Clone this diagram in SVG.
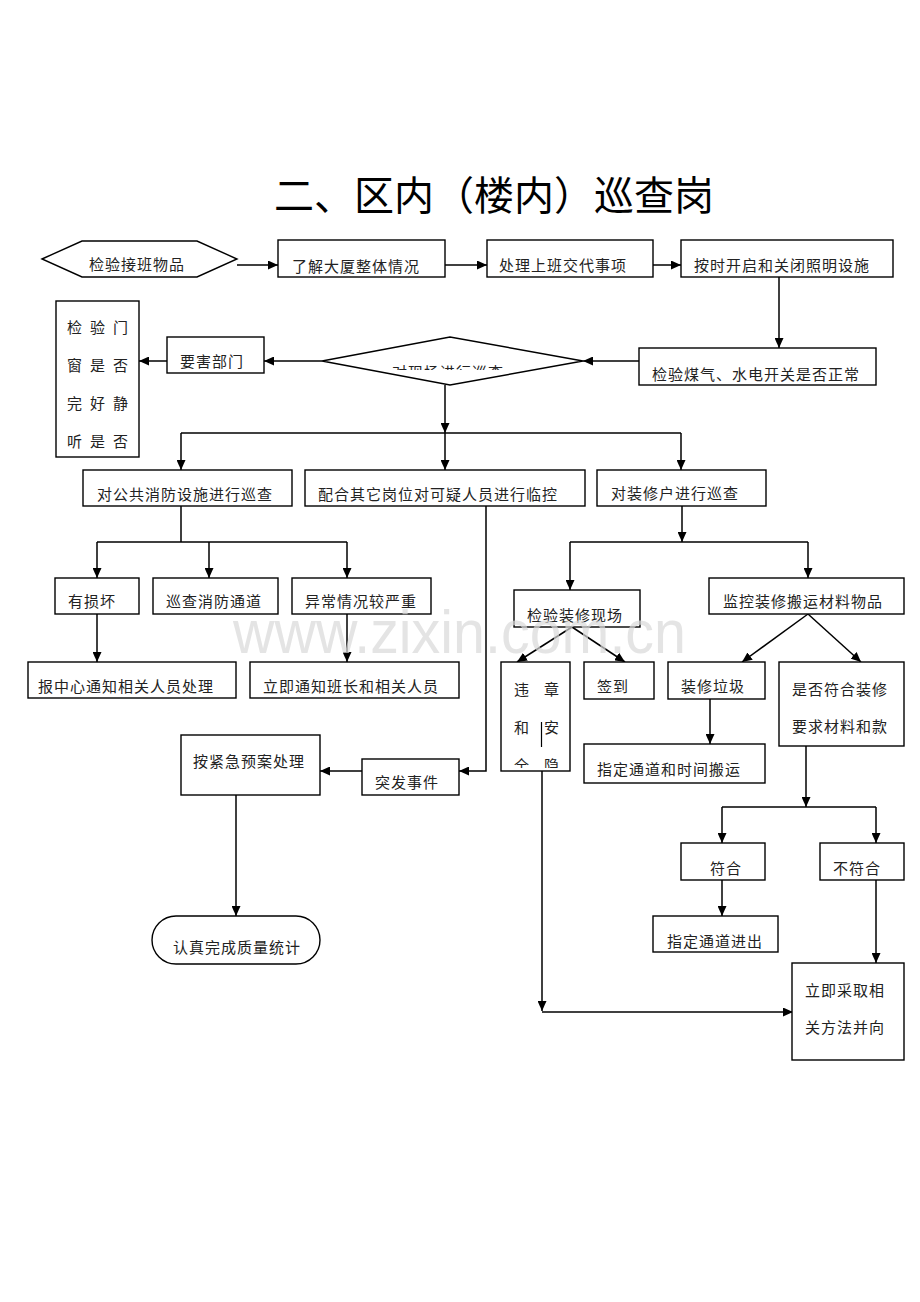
<svg xmlns="http://www.w3.org/2000/svg" width="920" height="1302" viewBox="0 0 920 1302">
<style>
.b{fill:#fff;stroke:#000;stroke-width:1.4}
.t{font-family:"Noto Sans CJK SC","Liberation Serif",serif;font-size:15px;fill:#222;letter-spacing:1px}
.c{fill:none;stroke:#000;stroke-width:1.5}
.a{marker-end:url(#ah)}
.title{font-family:"Noto Sans CJK SC","Liberation Serif",serif;font-size:40px;fill:#000}
</style>
<defs>
<marker id="ah" markerUnits="userSpaceOnUse" markerWidth="11" markerHeight="9" refX="10" refY="4.5" orient="auto"><path d="M0,0 L10,4.5 L0,9 z" fill="#000"/></marker>
<clipPath id="cd"><rect x="320" y="330" width="270" height="40"/></clipPath>
<clipPath id="cw"><rect x="501" y="662" width="69" height="106"/></clipPath>
</defs>
<rect width="920" height="1302" fill="#fff"/>
<text class="title" x="274" y="210">二、区内（楼内）巡查岗</text>

<g id="connectors">
<path class="c a" d="M237,265 H278"/>
<path class="c a" d="M445,265 H487"/>
<path class="c a" d="M653,265 H681"/>
<path class="c a" d="M779,277 V348"/>
<path class="c a" d="M639,361 H583"/>
<path class="c a" d="M322,361 H264"/>
<path class="c a" d="M167,361 H139"/>
<path class="c a" d="M445,385 V433"/>
<path class="c" d="M181,433 H681"/>
<path class="c a" d="M181,433 V470"/>
<path class="c a" d="M445,433 V470"/>
<path class="c a" d="M681,433 V470"/>
<path class="c" d="M181,506 V542 M97,542 H347"/>
<path class="c a" d="M97,542 V578"/>
<path class="c a" d="M209,542 V578"/>
<path class="c a" d="M347,542 V578"/>
<path class="c a" d="M97,614 V662"/>
<path class="c a" d="M347,614 V662"/>
<path class="c a" d="M682,506 V542"/>
<path class="c" d="M570,542 H808"/>
<path class="c a" d="M570,542 V590"/>
<path class="c a" d="M808,542 V578"/>
<path class="c a" d="M572,627 L517,662"/>
<path class="c a" d="M572,627 L625,662"/>
<path class="c a" d="M808,614 L742,662"/>
<path class="c a" d="M808,614 L861,662"/>
<path class="c a" d="M710,699 V744"/>
<path class="c a" d="M806,746 V807"/>
<path class="c" d="M722,807 H876"/>
<path class="c a" d="M722,807 V843"/>
<path class="c a" d="M876,807 V843"/>
<path class="c a" d="M722,880 V916"/>
<path class="c a" d="M876,880 V963"/>
<path class="c a" d="M542,771 V1011"/>
<path class="c a" d="M542,1012 H793"/>
<path class="c a" d="M486,506 V771 H459"/>
<path class="c a" d="M362,771 H320"/>
<path class="c a" d="M236,795 V916"/>
</g>

<g id="n1"><path class="b" d="M42,259 L82,241 L197,241 L237,259 L197,277 L82,277 Z"/><text class="t" x="89" y="270">检验接班物品</text></g>
<g id="n2"><rect class="b" x="278" y="240" width="167" height="37"/><text class="t" x="292" y="272">了解大厦整体情况</text></g>
<g id="n3"><rect class="b" x="487" y="240" width="166" height="37"/><text class="t" x="499" y="271">处理上班交代事项</text></g>
<g id="n4"><rect class="b" x="681" y="240" width="212" height="37"/><text class="t" x="694" y="271">按时开启和关闭照明设施</text></g>
<g id="n5"><rect class="b" x="639" y="348" width="237" height="37"/><text class="t" x="652" y="380">检验煤气、水电开关是否正常</text></g>
<g id="n6"><path class="b" d="M322,361 L450,337 L583,361 L450,385 Z"/><text class="t" x="392" y="378" clip-path="url(#cd)">对现场进行巡查</text></g>
<g id="n7"><rect class="b" x="167" y="337" width="97" height="36"/><text class="t" x="180" y="367">要害部门</text></g>
<g id="n8"><rect class="b" x="56" y="301" width="83" height="156"/>
<text class="t" x="67" y="333" style="letter-spacing:8px">检验门</text>
<text class="t" x="67" y="371" style="letter-spacing:8px">窗是否</text>
<text class="t" x="67" y="409" style="letter-spacing:8px">完好静</text>
<text class="t" x="67" y="447" style="letter-spacing:8px">听是否</text></g>
<g id="n9"><rect class="b" x="83" y="470" width="209" height="36"/><text class="t" x="97" y="500">对公共消防设施进行巡查</text></g>
<g id="n10"><rect class="b" x="305" y="470" width="280" height="36"/><text class="t" x="318" y="500">配合其它岗位对可疑人员进行临控</text></g>
<g id="n11"><rect class="b" x="597" y="470" width="169" height="36"/><text class="t" x="611" y="499">对装修户进行巡查</text></g>
<g id="n12"><rect class="b" x="55" y="578" width="84" height="36"/><text class="t" x="68" y="607">有损坏</text></g>
<g id="n13"><rect class="b" x="153" y="578" width="125" height="36"/><text class="t" x="166" y="607">巡查消防通道</text></g>
<g id="n14"><rect class="b" x="292" y="578" width="139" height="36"/><text class="t" x="305" y="607">异常情况较严重</text></g>
<g id="n15"><rect class="b" x="28" y="662" width="208" height="36"/><text class="t" x="38" y="692">报中心通知相关人员处理</text></g>
<g id="n16"><rect class="b" x="250" y="662" width="209" height="36"/><text class="t" x="263" y="692">立即通知班长和相关人员</text></g>
<g id="n17"><rect class="b" x="514" y="590" width="126" height="37"/><text class="t" x="527" y="621">检验装修现场</text></g>
<g id="n18"><rect class="b" x="709" y="578" width="195" height="36"/><text class="t" x="723" y="607">监控装修搬运材料物品</text></g>
<g id="n19"><rect class="b" x="501" y="662" width="69" height="109"/>
<g clip-path="url(#cw)">
<text class="t" x="514" y="695" style="letter-spacing:15px">违章</text>
<text class="t" x="514" y="733" style="letter-spacing:15px">和安</text>
<text class="t" x="514" y="771" style="letter-spacing:15px">全隐</text>
</g>
<path d="M541.5,722 V747" stroke="#000" stroke-width="1.2"/></g>
<g id="n20"><rect class="b" x="584" y="662" width="70" height="37"/><text class="t" x="597" y="692">签到</text></g>
<g id="n21"><rect class="b" x="668" y="662" width="97" height="37"/><text class="t" x="681" y="692">装修垃圾</text></g>
<g id="n22"><rect class="b" x="779" y="662" width="125" height="84"/><text class="t" x="792" y="695">是否符合装修</text><text class="t" x="792" y="732">要求材料和款</text></g>
<g id="n23"><rect class="b" x="584" y="744" width="181" height="39"/><text class="t" x="597" y="775">指定通道和时间搬运</text></g>
<g id="n24"><rect class="b" x="362" y="759" width="97" height="36"/><text class="t" x="375" y="788">突发事件</text></g>
<g id="n25"><rect class="b" x="181" y="735" width="139" height="60"/><text class="t" x="193" y="767">按紧急预案处理</text></g>
<g id="n26"><rect class="b" x="152" y="916" width="168" height="48" rx="24" ry="24"/><text class="t" x="173" y="953">认真完成质量统计</text></g>
<g id="n27"><rect class="b" x="681" y="843" width="84" height="37"/><text class="t" x="710" y="874">符合</text></g>
<g id="n28"><rect class="b" x="820" y="843" width="84" height="37"/><text class="t" x="833" y="874">不符合</text></g>
<g id="n29"><rect class="b" x="653" y="916" width="125" height="36"/><text class="t" x="667" y="947">指定通道进出</text></g>
<g id="n30"><rect class="b" x="792" y="963" width="112" height="97"/><text class="t" x="805" y="996">立即采取相</text><text class="t" x="805" y="1033">关方法并向</text></g>

<text x="233" y="653" font-family="Liberation Sans, Arial, sans-serif" font-size="62" fill="#d9d9d9" fill-opacity="0.7" textLength="453" lengthAdjust="spacingAndGlyphs">www.zixin.com.cn</text>
</svg>
